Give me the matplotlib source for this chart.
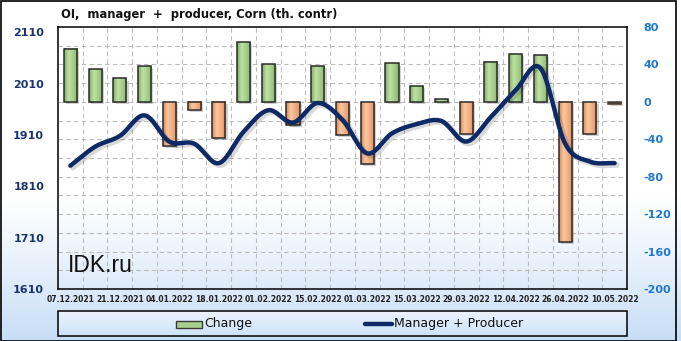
import numpy as np
import matplotlib
matplotlib.use("Agg")
import matplotlib.pyplot as plt
from matplotlib.patches import Rectangle
from matplotlib.colors import LinearSegmentedColormap

dates = ["07.12.2021", "14.12.2021", "21.12.2021", "28.12.2021", "04.01.2022", "11.01.2022",
         "18.01.2022", "25.01.2022", "01.02.2022", "08.02.2022", "15.02.2022", "22.02.2022",
         "01.03.2022", "08.03.2022", "15.03.2022", "22.03.2022", "29.03.2022", "05.04.2022",
         "12.04.2022", "19.04.2022", "26.04.2022", "03.05.2022", "10.05.2022"]
change = [57, 35, 25, 38, -47, -9, -39, 64, 40, -25, 38, -35, -66, 41, 17, 3, -34, 43, 51, 50, -150, -34, -2]
manager_producer = [1850, 1887, 1908, 1948, 1897, 1893, 1855, 1916, 1958, 1934, 1972, 1939, 1874,
                    1913, 1931, 1937, 1897, 1945, 1997, 2040, 1893, 1858, 1855]
left_ticks = [1610, 1710, 1810, 1910, 2010, 2110]
right_ticks = [-200, -160, -120, -80, -40, 0, 40, 80]

W, H = 681, 341
fig = plt.figure(figsize=(W / 100, H / 100), dpi=100)
fig.patch.set_facecolor("white")

# background gradient
bg = fig.add_axes([0, 0, 1, 1], zorder=-10)
bg.set_axis_off()
grad = np.ones((200, 1, 3))
t = np.linspace(0, 1, 200)
top = np.array([1.0, 1.0, 1.0])
bot = np.array([0.78, 0.87, 0.965])
start = 0.58
for i, tv in enumerate(t):
    f = 0 if tv < start else ((tv - start) / (1 - start)) ** 1.1
    grad[i, 0] = top * (1 - f) + bot * f
bg.imshow(grad, extent=(0, 1, 0, 1), aspect="auto", origin="upper")
bg.set_xlim(0, 1)
bg.set_ylim(0, 1)
bg.add_patch(Rectangle((0.5 / W, 0.5 / H), 675 / W, 339.5 / H, fill=False, ec="black", lw=1.2,
                       transform=bg.transAxes))

# legend box
lx0, lx1, ly0, ly1 = 58 / W, 627 / W, 1 - 336 / H, 1 - 311 / H
lg = np.ones((50, 1, 3))
for i, tv in enumerate(np.linspace(0, 1, 50)):
    lg[i, 0] = np.array([0.93, 0.96, 0.995]) * (1 - tv) + np.array([0.80, 0.89, 0.975]) * tv
bg.imshow(lg, extent=(lx0, lx1, ly0, ly1), aspect="auto", origin="upper", zorder=2)
bg.add_patch(Rectangle((lx0, ly0), lx1 - lx0, ly1 - ly0, fill=False, ec="black", lw=1.1, zorder=3))
# legend entries
bg.add_patch(Rectangle((176 / W, 1 - 327.5 / H), 26 / W, 7 / H, fc="#a9d18e", ec="#3a3a3a", lw=1.0, zorder=4))
bg.text(204 / W, 1 - 324 / H, "Change", fontsize=9, va="center", ha="left", color="#111111", zorder=4)
bg.plot([365 / W, 392 / W], [1 - 324 / H, 1 - 324 / H], color="#0d2a66", lw=3.2, solid_capstyle="round", zorder=4)
bg.text(394 / W, 1 - 324 / H, "Manager + Producer", fontsize=9, va="center", ha="left", color="#111111", zorder=4)

# title
fig.text(199 / W, 1 - 14.5 / H, "OI,  manager  +  producer, Corn (th. contr)", fontsize=8.3, fontweight="bold",
         ha="center", va="center", color="#111111")

# main axes: bars on ax (right scale), line on ax2 (left scale)
ax = fig.add_axes([58 / W, 1 - 289 / H, (627 - 58) / W, (289 - 27) / H])
ax.patch.set_alpha(0)
x = np.arange(len(dates))
n = len(dates)
ax.set_xlim(-0.5, n - 0.5)
ax.set_ylim(-200, 80)
ax.set_xticks(x[::2])
ax.set_xticklabels(dates[::2], fontsize=5.5, fontweight="bold", color="#222222")
ax.tick_params(axis="x", length=0, pad=4)
# grid
for v in range(-180, 80, 20):
    ax.axhline(v, color="#bdbdbd", lw=0.8, ls=(0, (4, 3)), zorder=0)
for b in np.arange(0.5, n - 0.5, 1):
    ax.axvline(b, color="#bdbdbd", lw=0.8, ls=(0, (4, 3)), zorder=0)
for s in ax.spines.values():
    s.set_color("black")
    s.set_linewidth(1.1)

bw = 0.53
gcm = LinearSegmentedColormap.from_list("g", ["#7fae62", "#bfe0a6", "#a6cf8a", "#86b56a"])
ocm = LinearSegmentedColormap.from_list("o", ["#d98a58", "#fbc8a0", "#f2ad80", "#dc9262"])
hg = np.linspace(0, 1, 40).reshape(1, -1)
for xi, v in zip(x, change):
    ax.add_patch(Rectangle((xi - bw / 2 + 0.09, min(0, v) - 2.2), bw, abs(v), fc="#000000", alpha=0.18,
                           ec="none", zorder=1))
    cm = gcm if v >= 0 else ocm
    lo, hi = (0, v) if v >= 0 else (v, 0)
    ax.imshow(hg, cmap=cm, extent=(xi - bw / 2, xi + bw / 2, lo, hi), aspect="auto", zorder=2,
              interpolation="bilinear")
    tiny = abs(v) <= 2
    edge = "#4a3a30" if tiny else "#2b2b2b"
    fcol = "#5a463a" if tiny else "none"
    ax.add_patch(Rectangle((xi - bw / 2, lo), bw, hi - lo, fc=fcol, ec=edge, lw=1.1, zorder=3))
ax.set_xlim(-0.5, n - 0.5)
ax.set_ylim(-200, 80)

ax2 = ax.twinx()
ax2.set_ylim(1610, 2120)
ax2.yaxis.tick_left()
ax2.set_yticks(left_ticks)
ax2.set_yticklabels([str(v) for v in left_ticks], fontsize=8, fontweight="bold", color="#1a3470")
ax2.tick_params(axis="y", length=0, pad=10)
for s in ax2.spines.values():
    s.set_visible(False)

# right-hand scale for the bars (set after twinx, which moves ticks left)
ax.yaxis.tick_right()
ax.set_yticks(right_ticks)
ax.set_yticklabels([str(v) for v in right_ticks], fontsize=8, fontweight="bold", color="#1e78cc")
ax.tick_params(axis="y", length=0, pad=12)


def catmull_rom(xs, ys, steps=20):
    xs = np.asarray(xs, float)
    ys = np.asarray(ys, float)
    px = np.concatenate([[2 * xs[0] - xs[1]], xs, [2 * xs[-1] - xs[-2]]])
    py = np.concatenate([[2 * ys[0] - ys[1]], ys, [2 * ys[-1] - ys[-2]]])
    ox, oy = [], []
    for i in range(1, len(px) - 2):
        tt = np.linspace(0, 1, steps, endpoint=False)
        for arr, out in ((px, ox), (py, oy)):
            p0, p1, p2, p3 = arr[i - 1], arr[i], arr[i + 1], arr[i + 2]
            out.extend(0.5 * (2 * p1 + (-p0 + p2) * tt + (2 * p0 - 5 * p1 + 4 * p2 - p3) * tt ** 2
                              + (-p0 + 3 * p1 - 3 * p2 + p3) * tt ** 3))
    ox.append(xs[-1])
    oy.append(ys[-1])
    return np.array(ox), np.array(oy)


sx, sy = catmull_rom(x, manager_producer)
ax2.plot(sx + 0.1, sy - 4, color="black", alpha=0.15, lw=4, solid_capstyle="round", zorder=4)
ax2.plot(sx, sy, color="#0d2a66", lw=3.2, solid_capstyle="round", zorder=5)
ax2.set_xlim(-0.5, n - 0.5)

fig.text(68 / W, 1 - 265 / H, "IDK.ru", fontsize=16.5, family="Liberation Sans", ha="left", va="center",
         color="#111111", zorder=10)

fig.savefig("out.png", dpi=100)
